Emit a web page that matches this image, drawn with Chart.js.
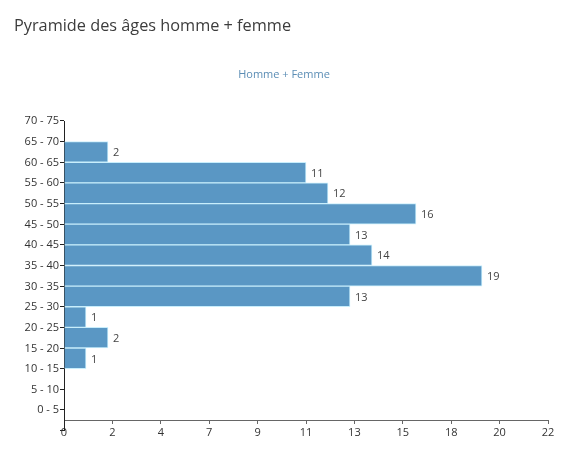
<!DOCTYPE html>
<html>
<head>
<meta charset="utf-8">
<script src="https://cdn.jsdelivr.net/npm/chart.js@4/dist/chart.umd.min.js"></script>
<style>
  html, body { margin: 0; padding: 0; background: #fff; }
  #wrap { position: relative; width: 572px; height: 455px; }
  #title {
    position: absolute; left: 14px; top: 14px;
    font-family: "Open Sans", sans-serif; font-size: 16.3px; color: #3c3c3c;
  }
  #subtitle {
    position: absolute; left: 0; top: 66px; width: 568px; text-align: center;
    font-family: "Open Sans", sans-serif; font-size: 11px; line-height: 16px; color: #5b8db5;
  }
  canvas { position: absolute; left: 0; top: 0; }
</style>
</head>
<body>
<div id="wrap">
  <canvas id="pyramide" width="572" height="455"></canvas>
  <div id="title">Pyramide des âges homme + femme</div>
  <div id="subtitle">Homme + Femme</div>
</div>
<script>
const ageGroups = ['70 - 75', '65 - 70', '60 - 65', '55 - 60', '50 - 55', '45 - 50', '40 - 45',
  '35 - 40', '30 - 35', '25 - 30', '20 - 25', '15 - 20', '10 - 15', '5 - 10', '0 - 5'];
const effectifs = [0, 2, 11, 12, 16, 13, 14, 19, 13, 1, 2, 1, 0, 0, 0];
const xMax = 22;
const xStep = 2.2;

// petites valeurs a droite des barres
const valueLabels = {
  id: 'valueLabels',
  afterDatasetsDraw(chart) {
    const ctx = chart.ctx;
    const meta = chart.getDatasetMeta(0);
    ctx.save();
    ctx.font = '11px "Open Sans", sans-serif';
    ctx.fillStyle = '#444';
    ctx.textBaseline = 'middle';
    meta.data.forEach((bar, i) => {
      if (!effectifs[i]) return;
      ctx.fillText(String(effectifs[i]), bar.x + 5, bar.y + 1);
    });
    ctx.restore();
  }
};

new Chart(document.getElementById('pyramide'), {
  type: 'bar',
  data: {
    labels: ageGroups,
    datasets: [{
      label: 'Homme + Femme',
      data: effectifs,
      backgroundColor: '#5a97c4',
      borderColor: '#c8eefc',
      borderWidth: 1,
      barPercentage: 1,
      categoryPercentage: 1
    }]
  },
  options: {
    indexAxis: 'y',
    responsive: false,
    animation: false,
    layout: { padding: { top: 121, left: 0, right: 24, bottom: 24.4 } },
    plugins: {
      legend: { display: false },
      tooltip: { enabled: false },
      title: { display: false }
    },
    scales: {
      x: {
        position: { y: '0 - 5' },
        min: 0,
        max: xMax,
        grid: { drawOnChartArea: false, tickLength: 3, color: '#666' },
        border: { color: '#666' },
        ticks: {
          stepSize: xStep,
          padding: 3,
          color: '#333',
          font: { family: 'Open Sans', size: 11 },
          callback: v => Math.round(v)
        }
      },
      y: {
        offset: true,
        grid: { drawOnChartArea: false, offset: true, tickLength: 4, color: '#222' },
        border: { color: '#222' },
        ticks: {
          labelOffset: -10,
          padding: 1,
          color: '#333',
          font: { family: 'Open Sans', size: 11 }
        },
        afterFit: s => { s.width = 64; }
      }
    }
  },
  plugins: [valueLabels]
});
</script>
</body>
</html>
